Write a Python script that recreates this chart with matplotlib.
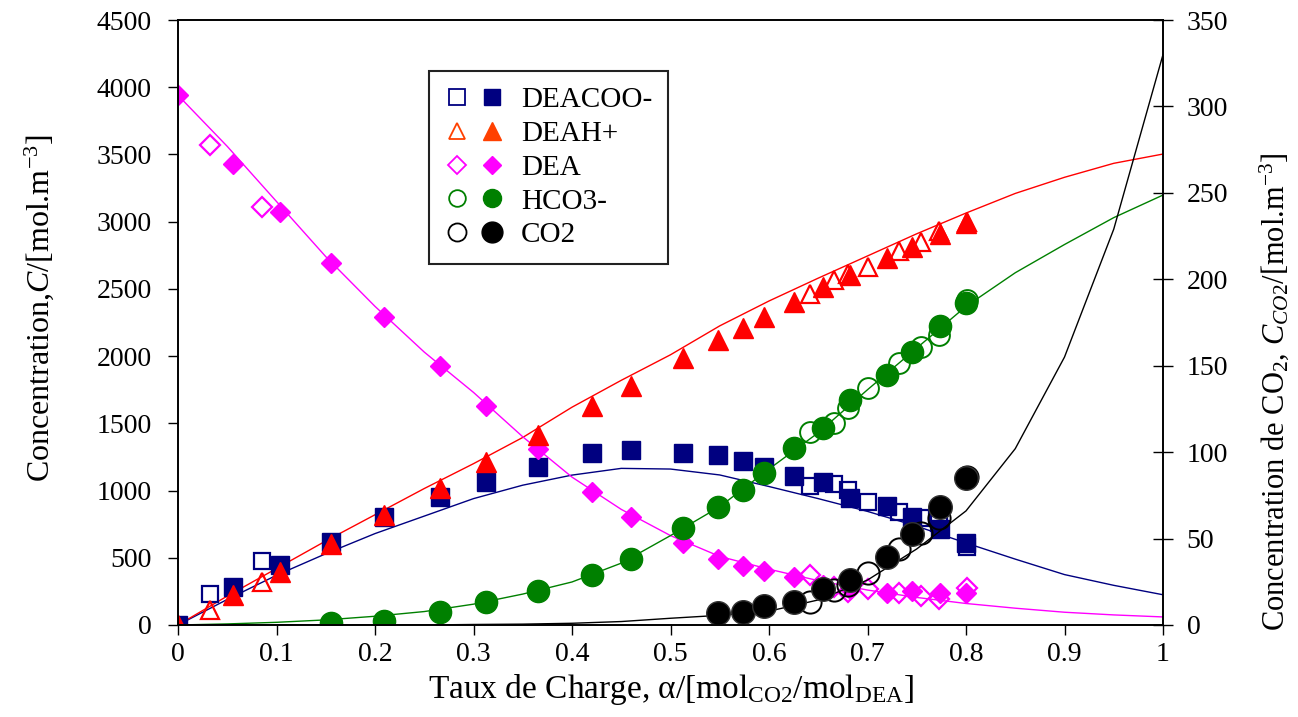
import matplotlib
matplotlib.use('Agg')
import matplotlib.pyplot as plt
from matplotlib.legend_handler import HandlerTuple
from matplotlib.lines import Line2D

plt.rcParams['font.family'] = ['Liberation Serif', 'DejaVu Serif']
plt.rcParams['mathtext.fontset'] = 'custom'
plt.rcParams['mathtext.rm'] = 'Liberation Serif'
plt.rcParams['mathtext.it'] = 'Liberation Serif:italic'

# experimental points, filled markers
x_fill = [0, 0.0555, 0.104, 0.155, 0.2095, 0.266, 0.3127, 0.3658, 0.42, 0.4596, 0.513,
          0.5485, 0.5733, 0.595, 0.6257, 0.655, 0.682, 0.7195, 0.745, 0.7736, 0.80]
deacoo_fill = [0, 280, 446, 615, 806, 955, 1066, 1173, 1277, 1302, 1277,
               1264, 1220, 1178, 1111, 1066, 947, 885, 801, 712, 608]
deah_fill = [0, 223, 397, 600, 815, 1017, 1215, 1413, 1629, 1780, 1984,
             2120, 2207, 2289, 2405, 2512, 2603, 2728, 2814, 2908, 2992]
dea_fill = [3942, 3429, 3074, 2695, 2293, 1926, 1629, 1307, 987, 806, 612,
            489, 441, 404, 359, 298, 265, 236, 255, 240, 240]
x_hco3_fill = x_fill[3:]
hco3_fill = [12, 32, 99, 173, 255, 372, 491, 719, 875, 1004, 1133, 1314, 1463, 1670,
             1860, 2033, 2226, 2397]
x_co2_fill = x_fill[11:]
co2_fill = [6.8, 7.7, 11.0, 13.5, 20.8, 26.0, 39.5, 52.6, 68.1, 84.9]

# experimental points, open markers
x_open = [0.0325, 0.085, 0.6416, 0.666, 0.68, 0.70, 0.732, 0.754, 0.773, 0.801]
deacoo_open = [231, 478, 1034, 1046, 1004, 917, 843, 794, 756, 583]
deah_open = [110, 322, 2462, 2566, 2610, 2665, 2784, 2851, 2930, 3000]
dea_open = [3570, 3111, 372, 285, 248, 266, 236, 216, 191, 273]
x_hco3_open = x_open[2:]
hco3_open = [1433, 1505, 1612, 1761, 1946, 2070, 2157, 2417]
x_co2_open = x_open[2:]
co2_open = [13.5, 20.2, 23, 29.9, 43.8, 53.4, 62, 85.4]

# model curves
x_model = [0, 0.05, 0.1, 0.15, 0.2, 0.25, 0.3, 0.35, 0.4, 0.45, 0.5,
           0.55, 0.6, 0.65, 0.7, 0.75, 0.8, 0.85, 0.9, 0.95, 1.0]
deah_model = [0, 215, 420, 625, 820, 1015, 1200, 1395, 1620, 1820, 2010,
              2225, 2410, 2580, 2745, 2910, 3064, 3210, 3330, 3434, 3503]
deacoo_model = [0, 190, 370, 530, 680, 810, 940, 1040, 1115, 1165, 1160,
                1116, 1030, 940, 845, 735, 610, 490, 375, 295, 225]
dea_model = [3940, 3560, 3150, 2740, 2370, 2030, 1730, 1400, 1100, 860, 665,
             510, 415, 330, 260, 205, 160, 125, 95, 75, 60]
hco3_model = [0, 8, 20, 38, 65, 100, 155, 230, 320, 460, 665,
              880, 1160, 1430, 1750, 2060, 2370, 2620, 2830, 3030, 3198]
co2_model = [0, 0, 0, 0, 0, 0, 0.3, 0.5, 1.0, 2.0, 3.9,
             5.6, 8.0, 14.5, 26, 44, 66, 102, 155, 229, 330]

navy = '#000080'
red = '#ff0000'
mag = '#ff00ff'
green = '#008000'

fig = plt.figure(figsize=(12.98, 7.17), dpi=100)
ax = fig.add_axes([178 / 1298, 1 - 625 / 717, 985 / 1298, 605 / 717])
ax2 = ax.twinx()

ax.plot(x_model, deacoo_model, '-', color=navy, lw=1)
ax.plot(x_model, deah_model, '-', color=red, lw=1)
ax.plot(x_model, dea_model, '-', color=mag, lw=1)
ax.plot(x_model, hco3_model, '-', color=green, lw=1)

ax.plot(x_open, deacoo_open, 's', ms=12, mfc='none', mec=navy, mew=1.6, ls='none')
ax.plot(x_open, deah_open, '^', ms=13, mfc='none', mec=red, mew=1.6, ls='none')
ax.plot(x_open, dea_open, 'D', ms=10, mfc='none', mec=mag, mew=1.6, ls='none')
ax.plot(x_hco3_open, hco3_open, 'o', ms=15, mfc='none', mec=green, mew=1.4, ls='none')

ax.plot(x_fill, deacoo_fill, 's', ms=13, color=navy, ls='none')
ax.plot(x_fill, dea_fill, 'D', ms=10, color=mag, ls='none')
ax.plot(x_fill, deah_fill, '^', ms=15, color=red, ls='none')
ax.plot(x_hco3_fill, hco3_fill, 'o', ms=16, color=green, ls='none')

ax2.plot(x_model, co2_model, '-', color='black', lw=1)
ax2.plot(x_co2_open, co2_open, 'o', ms=16, mfc='none', mec='black', mew=1.4, ls='none')
ax2.plot(x_co2_fill, co2_fill, 'o', ms=17, color='black', mec='#333333', ls='none')

ax.set_xlim(0, 1)
ax.set_ylim(0, 4500)
ax2.set_ylim(0, 350)
ax.set_xticks([i / 10 for i in range(11)])
ax.set_xticklabels(['0', '0.1', '0.2', '0.3', '0.4', '0.5', '0.6', '0.7', '0.8', '0.9', '1'])
ax.set_yticks(range(0, 4501, 500))
ax2.set_yticks(range(0, 351, 50))

ax.tick_params(axis='x', direction='out', length=7, width=1, labelsize=20, pad=5)
ax.tick_params(axis='y', direction='out', length=7, width=1, labelsize=20, pad=12)
ax2.tick_params(axis='y', direction='inout', length=14, width=1, labelsize=20, pad=10)
for a in (ax, ax2):
    for s in a.spines.values():
        s.set_linewidth(1.2)

ax.set_xlabel('Taux de Charge, α/[mol$_{\\mathrm{CO2}}$/mol$_{\\mathrm{DEA}}$]', fontsize=24, labelpad=4)
ax.set_ylabel('Concentration,$C$/[mol.m$^{-3}$]', fontsize=23)
ax2.set_ylabel('Concentration de CO$_2$, $C_{CO2}$/[mol.m$^{-3}$]', fontsize=22)
ax.yaxis.set_label_coords(-0.124, 0.524)
ax2.yaxis.set_label_coords(1.096, 0.385)

def pair(mk, c, ms_o, ms_f):
    o = Line2D([], [], marker=mk, ls='none', ms=ms_o, mfc='none', mec=c, mew=1.3)
    f = Line2D([], [], marker=mk, ls='none', ms=ms_f, color=c)
    return (o, f)

handles = [pair('s', navy, 11, 12), pair('^', '#ff4000', 12, 13), pair('D', mag, 9, 9),
           pair('o', green, 12, 13), pair('o', 'black', 13, 15)]
labels = ['DEACOO-', 'DEAH+', 'DEA', 'HCO3-', 'CO2']
leg = ax2.legend(handles, labels, loc='upper left', bbox_to_anchor=(0.2548, 0.9157),
                 borderaxespad=0, fontsize=21, handler_map={tuple: HandlerTuple(ndivide=None, pad=0.4)},
                 handlelength=2.0, handletextpad=0.6, labelspacing=0.25, borderpad=0.55,
                 fancybox=False, framealpha=1, edgecolor='#222222')
leg.get_frame().set_linewidth(1.5)

fig.savefig('out.png', dpi=100)
